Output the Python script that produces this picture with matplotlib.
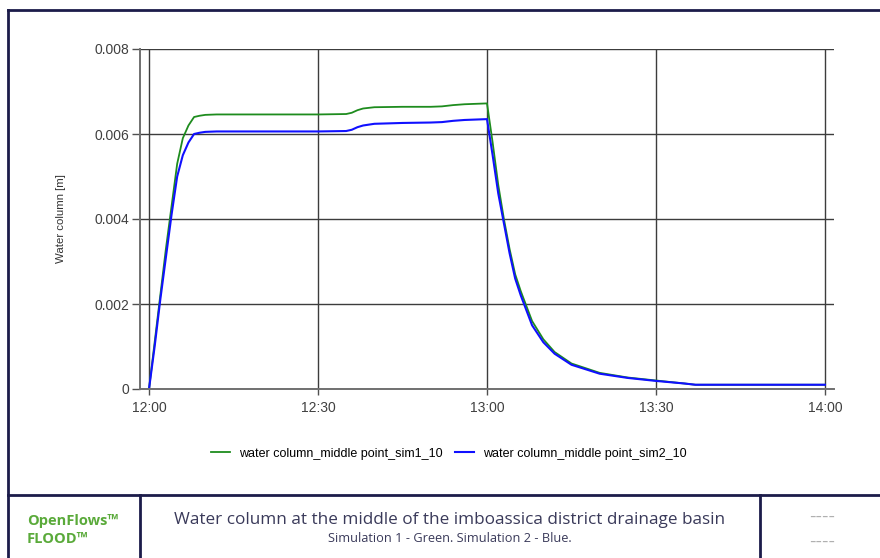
import matplotlib
matplotlib.use('Agg')
import matplotlib.pyplot as plt
from matplotlib.lines import Line2D

# minutes after 12:00
minutes = [0, 1, 2, 3, 4, 5, 6, 7, 8, 9, 10, 12, 15, 20, 25, 30, 35, 36, 37, 38, 40, 45, 50, 52, 54,
           56, 58, 60, 61, 62, 63, 64, 65, 66, 68, 70, 72, 75, 80, 85, 90, 95, 97, 100, 110, 120]

sim1 = [0, 0.0011, 0.0022, 0.0033, 0.0043, 0.0053, 0.0059, 0.0062, 0.0064, 0.00643, 0.00645, 0.00646,
        0.00646, 0.00646, 0.00646, 0.00646, 0.00647, 0.0065, 0.00656, 0.0066, 0.00663, 0.00664, 0.00664,
        0.00665, 0.00668, 0.0067, 0.00671, 0.00672, 0.0058, 0.0048, 0.0040, 0.0033, 0.0027, 0.0023,
        0.0016, 0.00117, 0.00087, 0.0006, 0.00038, 0.00027, 0.0002, 0.00013, 0.0001, 0.0001, 0.0001, 0.0001]

sim2 = [0, 0.0010, 0.0021, 0.0031, 0.0041, 0.0050, 0.0055, 0.0058, 0.0060, 0.00603, 0.00605, 0.00606,
        0.00606, 0.00606, 0.00606, 0.00606, 0.00607, 0.0061, 0.00616, 0.0062, 0.00624, 0.00626, 0.00627,
        0.00628, 0.00631, 0.00633, 0.00634, 0.00635, 0.0055, 0.0046, 0.0039, 0.0032, 0.0026, 0.0022,
        0.0015, 0.0011, 0.00083, 0.00057, 0.00036, 0.00026, 0.00019, 0.00013, 0.0001, 0.0001, 0.0001, 0.0001]

x_ticks = [0, 30, 60, 90, 120]
x_labels = ['12:00', '12:30', '13:00', '13:30', '14:00']
y_ticks = [0, 0.002, 0.004, 0.006, 0.008]
y_labels = ['0', '0.002', '0.004', '0.006', '0.008']

W, H = 880, 558
fig = plt.figure(figsize=(8.8, 5.58), dpi=100)
plt.rcParams['font.family'] = ['Liberation Sans', 'DejaVu Sans']

ax = fig.add_axes([140 / W, 1 - 389 / H, (834 - 140) / W, (389 - 49) / H])
ax.plot(minutes, sim1, color='#1e8c1e', lw=1.3, label='water column_middle point_sim1_10')
ax.plot(minutes, sim2, color='#1010ff', lw=1.5, label='water column_middle point_sim2_10')

ax.set_xlim(-1.6, 121.6)
ax.set_ylim(0, 0.008)
ax.set_xticks(x_ticks)
ax.set_xticklabels(x_labels)
ax.set_yticks(y_ticks)
ax.set_yticklabels(y_labels)
ax.grid(True, color='#3c3c3c', lw=1.0)
ax.set_axisbelow(True)
for s in ['top', 'right']:
    ax.spines[s].set_visible(False)
for s in ['left', 'bottom']:
    ax.spines[s].set_color('#707070')
    ax.spines[s].set_linewidth(1.4)
ax.tick_params(axis='y', length=6, width=1, color='#505050', labelsize=10, labelcolor='#404040', pad=2)
ax.tick_params(axis='x', length=4, width=1, color='#505050', labelsize=10, labelcolor='#404040', pad=5)
ax.set_ylabel('Water column [m]', fontsize=8.2, color='#333333')
ax.yaxis.set_label_coords(-0.1066, 0.5)

ax.legend(loc='upper center', bbox_to_anchor=(0.445, -0.14), ncol=2, frameon=False,
          fontsize=9, handlelength=1.5, columnspacing=1.0, handletextpad=0.7)

# frame and title block
navy = '#1c1c4a'
def fline(x0, y0, x1, y1, lw=2.0):
    fig.add_artist(Line2D([x0 / W, x1 / W], [1 - y0 / H, 1 - y1 / H], color=navy, lw=lw))

fline(8, 10, 890, 10)
fline(8, 10, 8, 560)
fline(8, 495, 890, 495)
fline(140, 495, 140, 560)
fline(760, 495, 760, 560)

fig.text(27 / W, 1 - 521 / H, 'OpenFlows™', color='#5aaa3a', fontsize=10.5, fontweight='bold',
         family=['Open Sans', 'DejaVu Sans'], va='center', ha='left')
fig.text(27 / W, 1 - 539 / H, 'FLOOD™', color='#5aaa3a', fontsize=10.5, fontweight='bold',
         family=['Open Sans', 'DejaVu Sans'], va='center', ha='left')
fig.text(450 / W, 1 - 520 / H, 'Water column at the middle of the imboassica district drainage basin',
         color='#3a3a5a', fontsize=12.3, family=['Open Sans', 'DejaVu Sans'], va='center', ha='center')
fig.text(450 / W, 1 - 538 / H, 'Simulation 1 - Green. Simulation 2 - Blue.',
         color='#3a3a5a', fontsize=9.2, family=['Open Sans', 'DejaVu Sans'], va='center', ha='center')
fig.text(822 / W, 1 - 517 / H, '----', color='#b0b0b0', fontsize=14, va='center', ha='center')
fig.text(822 / W, 1 - 542 / H, '----', color='#b0b0b0', fontsize=14, va='center', ha='center')

fig.savefig('out.png', dpi=100)
